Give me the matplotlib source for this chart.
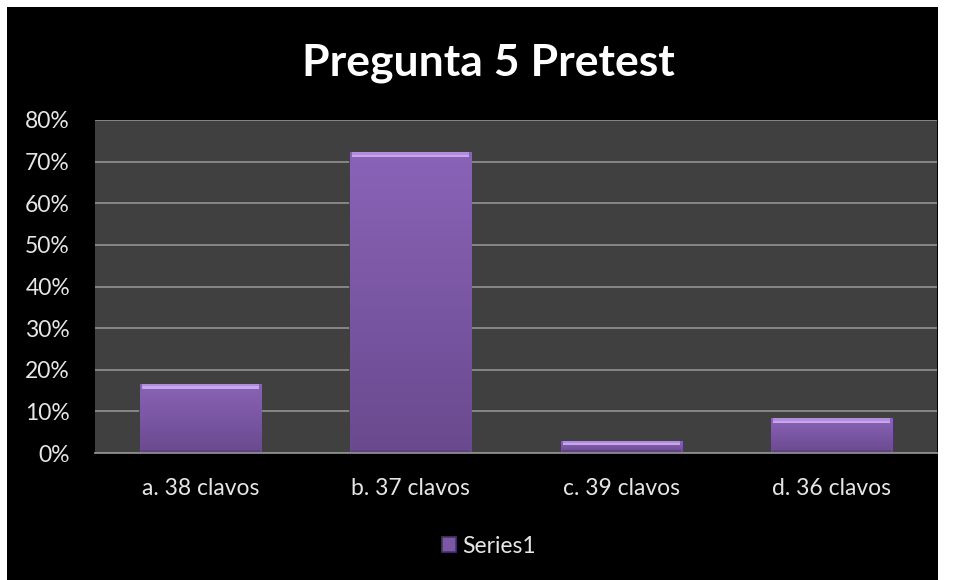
import matplotlib.pyplot as plt
from matplotlib.patches import Rectangle
from matplotlib.colors import LinearSegmentedColormap
import numpy as np

categories = ["a. 38 clavos", "b. 37 clavos", "c. 39 clavos", "d. 36 clavos"]
values = [6 / 36, 26 / 36, 1 / 36, 3 / 36]
yticks = [0, 0.1, 0.2, 0.3, 0.4, 0.5, 0.6, 0.7, 0.8]
ytick_labels = ["0%", "10%", "20%", "30%", "40%", "50%", "60%", "70%", "80%"]
series_name = "Series1"
title = "Pregunta 5 Pretest"

plt.rcParams['font.family'] = ['Lato', 'DejaVu Sans']

bar_cmap = LinearSegmentedColormap.from_list("bar", ["#6a4a8e", "#8a63b8"])


def main():
    fig = plt.figure(figsize=(9.56, 5.8), dpi=100, facecolor="white")
    # black chart area, with a thin white margin on top/left/right
    fig.add_artist(Rectangle((7 / 956, 0), 931 / 956, 573 / 580,
                             transform=fig.transFigure, facecolor="black",
                             edgecolor="none", zorder=-5))
    ax = fig.add_axes([95 / 956, 1 - 453 / 580, 842 / 956, 333 / 580])
    draw_bars(ax)
    format_axes(ax)
    fig.text(488 / 956, 1 - 63 / 580, title, ha="center", va="center",
             color="white", fontsize=32, fontweight="bold")
    fig.savefig("out.png", dpi=100, facecolor=fig.get_facecolor())


def draw_bars(ax: plt.Axes):
    x = np.arange(len(categories))
    vals = np.array(values)
    width = 0.575
    bars = ax.bar(x, vals, width, color="#7b58a6", edgecolor="#4a3368",
                  linewidth=1.2, zorder=3, label=series_name)
    # vertical gradient inside each bar, clipped to the bar
    grad = np.linspace(0, 1, 256).reshape(-1, 1)
    for xi, v, b in zip(x, vals, bars):
        im = ax.imshow(grad, cmap=bar_cmap, origin="lower", aspect="auto",
                       extent=(xi - width / 2, xi + width / 2, 0, v),
                       zorder=3.5, interpolation="bilinear")
        im.set_clip_path(b)
    # bevel: lighter strip along the top, darker band at the base
    band = np.minimum(vals * 0.3, 0.012)
    ax.bar(x, band, width * 0.965, bottom=vals - band, color="#b28ddc",
           edgecolor="none", zorder=4)
    ax.bar(x, band * 0.5, width * 0.965, bottom=vals - band, color="#c6a6ec",
           edgecolor="none", zorder=4.1)
    ax.bar(x, np.minimum(vals * 0.25, 0.008), width * 0.98, color="#5e4282",
           edgecolor="none", zorder=4)
    ax.set_xlim(-0.5, len(categories) - 0.5)
    return bars


def format_axes(ax: plt.Axes):
    ax.set_facecolor("#404040")
    ax.set_xlim(-0.5, len(categories) - 0.5)
    ax.set_ylim(0, 0.8)
    ax.set_yticks(yticks)
    ax.set_yticklabels(ytick_labels)
    ax.set_xticks(np.arange(len(categories)))
    ax.set_xticklabels(categories)
    ax.tick_params(axis="both", length=0, colors="#e6e6e6", labelsize=16.5)
    ax.tick_params(axis="y", pad=18)
    ax.tick_params(axis="x", pad=18)
    ax.grid(axis="y", color="#8c8c8c", linewidth=1.3, zorder=1)
    ax.set_axisbelow(True)
    for side in ["top", "right", "left"]:
        ax.spines[side].set_visible(False)
    ax.spines["bottom"].set_color("#8c8c8c")
    ax.spines["bottom"].set_linewidth(1.3)
    ax.spines["bottom"].set_zorder(5)
    leg = ax.legend(loc="center", bbox_to_anchor=(0.468, -0.28), frameon=False,
                    fontsize=16.5, handlelength=0.6, handleheight=0.6,
                    handletextpad=0.3)
    for t in leg.get_texts():
        t.set_color("#e6e6e6")


if __name__ == '__main__':
    main()
